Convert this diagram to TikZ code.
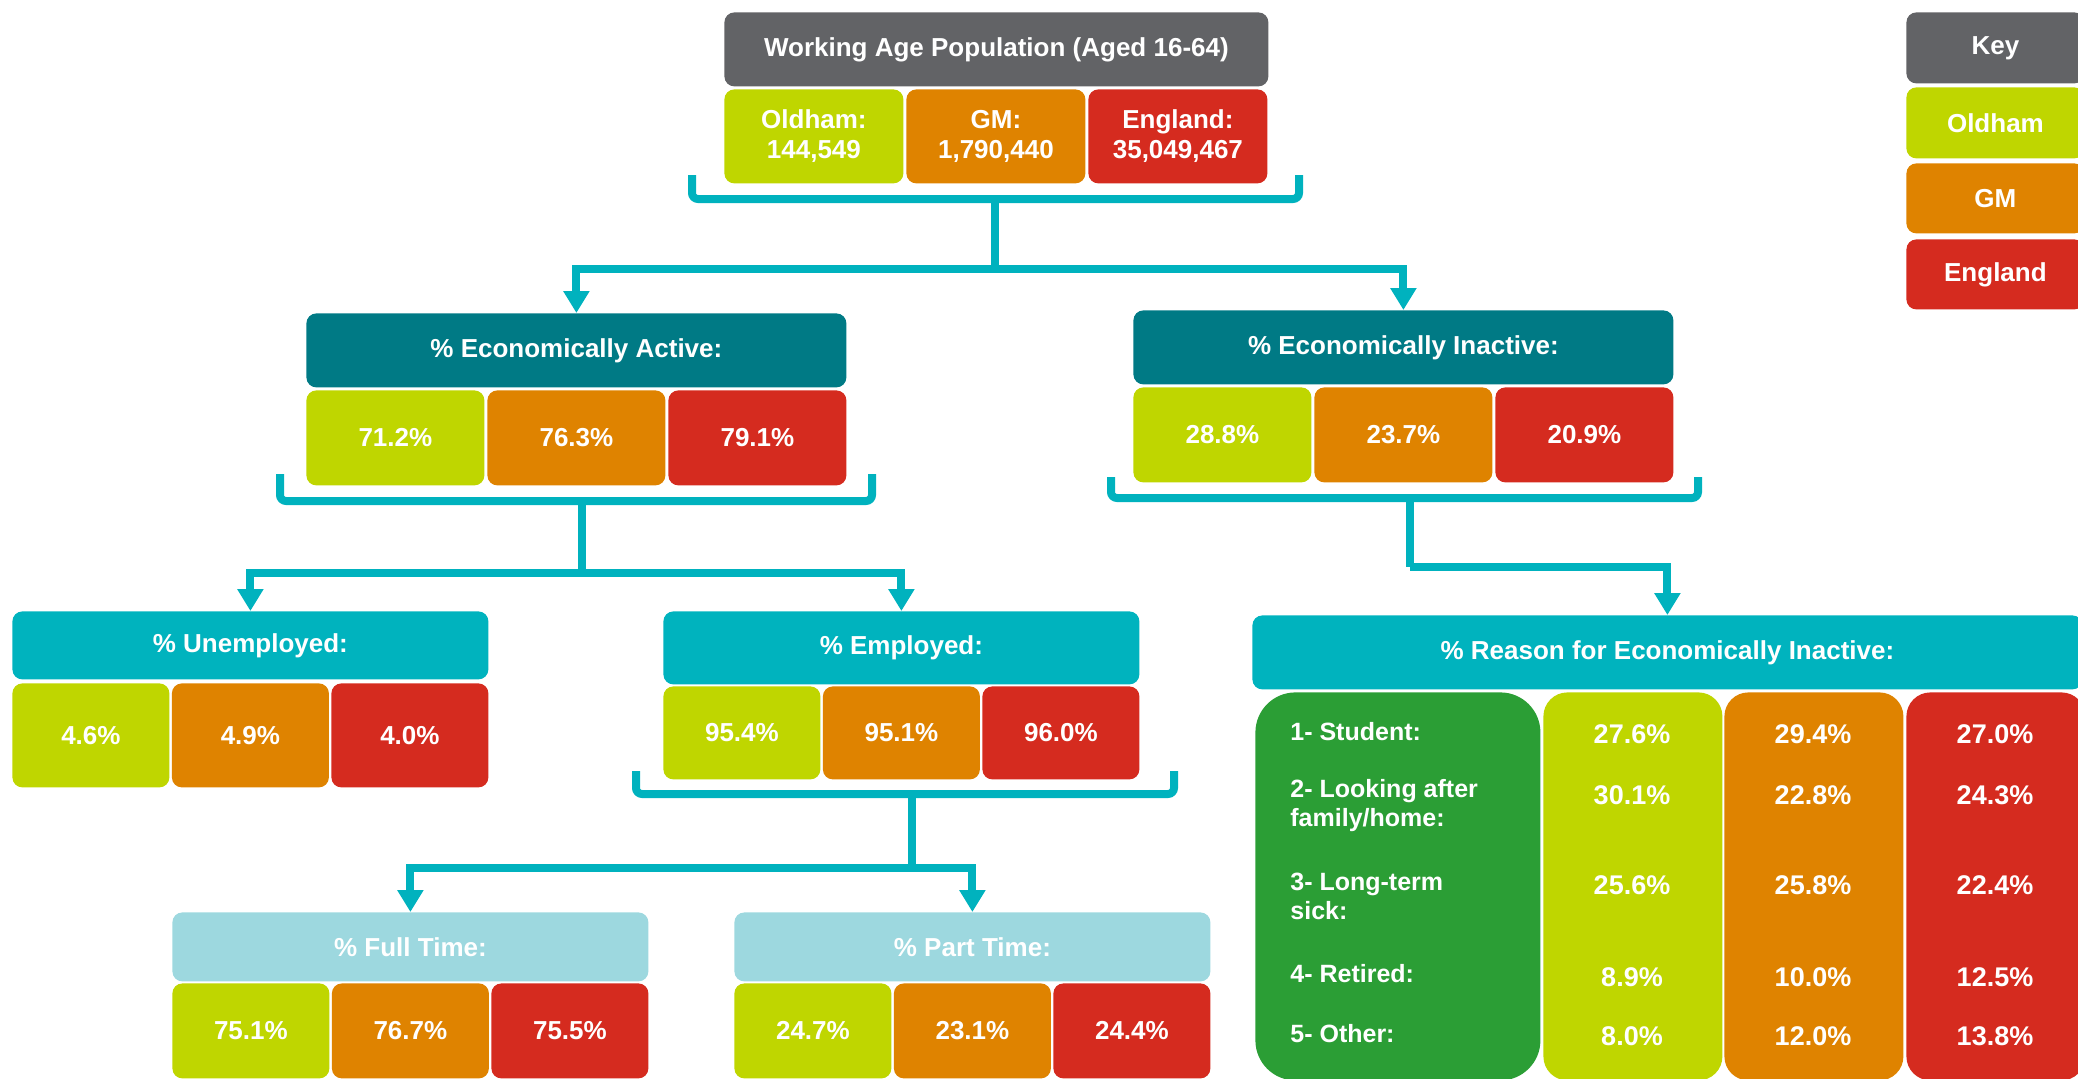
\documentclass[tikz,border=0pt]{standalone}
\usepackage{fontspec}
\setmainfont{Liberation Sans}
\usetikzlibrary{arrows.meta}
\definecolor{cgrey}{HTML}{626366}
\definecolor{colO}{HTML}{BFD600}
\definecolor{colG}{HTML}{DF8300}
\definecolor{colE}{HTML}{D52B1F}
\definecolor{dteal}{HTML}{007A85}
\definecolor{mteal}{HTML}{00B3BE}
\definecolor{lblue}{HTML}{9DD8DF}
\definecolor{cgreen}{HTML}{2B9E35}
\definecolor{lineteal}{HTML}{00B2BE}
\begin{document}
\begin{tikzpicture}[x=0.5pt,y=-0.5pt,
  cell/.style={rounded corners=5pt, text=white, font=\bfseries\fontsize{13}{15}\selectfont, inner sep=0pt, anchor=north west, align=center},
  hdr/.style={cell, minimum width=#1},
  oc/.style={cell, fill=colO},
  gc/.style={cell, fill=colG},
  ec/.style={cell, fill=colE},
  val/.style={text=white, font=\bfseries\fontsize{13.5}{15}\selectfont, inner sep=0pt},
  lab/.style={text=white, font=\bfseries\fontsize{12.5}{14.5}\selectfont, inner sep=0pt, anchor=west, align=left},
  conn/.style={draw=lineteal, line width=4pt, rounded corners=3pt},
  arr/.style={draw=lineteal, line width=4pt, -{Triangle[width=12.5pt,length=11pt]}}]
\useasboundingbox (0,0) rectangle (2078,1078);
\clip (0,0) rectangle (2078,1078);

% ---------- top ----------
\node[hdr=272pt, fill=cgrey, minimum height=37pt] (top) at (724,12) {Working Age Population (Aged 16-64)};
\node[oc, minimum width=89.5pt, minimum height=47pt] (topO) at (724,89) {Oldham:\\144,549};
\node[gc, minimum width=89.5pt, minimum height=47pt] (topG) at (906,89) {GM:\\1,790,440};
\node[ec, minimum width=89.5pt, minimum height=47pt] (topE) at (1088,89) {England:\\35,049,467};

% ---------- key ----------
\node[hdr=89pt, fill=cgrey, minimum height=35.5pt] (key) at (1906,12) {Key};
\node[oc, minimum width=89pt, minimum height=35.5pt] (keyO) at (1906,87) {Oldham};
\node[gc, minimum width=89pt, minimum height=35pt] (keyG) at (1906,163) {GM};
\node[ec, minimum width=89pt, minimum height=35pt] (keyE) at (1906,239) {England};

% ---------- economically active ----------
\node[hdr=270pt, fill=dteal, minimum height=37pt] (act) at (306,313) {\% Economically Active:};
\node[oc, minimum width=89pt, minimum height=47.5pt] (actO) at (306,390) {71.2\%};
\node[gc, minimum width=89pt, minimum height=47.5pt] (actG) at (487,390) {76.3\%};
\node[ec, minimum width=89pt, minimum height=47.5pt] (actE) at (668,390) {79.1\%};

% ---------- economically inactive ----------
\node[hdr=270pt, fill=dteal, minimum height=37pt] (inact) at (1133,310) {\% Economically Inactive:};
\node[oc, minimum width=89pt, minimum height=47.5pt] (inO) at (1133,387) {28.8\%};
\node[gc, minimum width=89pt, minimum height=47.5pt] (inG) at (1314,387) {23.7\%};
\node[ec, minimum width=89pt, minimum height=47.5pt] (inE) at (1495,387) {20.9\%};

% ---------- unemployed ----------
\node[hdr=238pt, fill=mteal, minimum height=34pt] (unemp) at (12,611) {\% Unemployed:};
\node[oc, minimum width=78.5pt, minimum height=52pt] (unO) at (12,683) {4.6\%};
\node[gc, minimum width=78.5pt, minimum height=52pt] (unG) at (171.5,683) {4.9\%};
\node[ec, minimum width=78.5pt, minimum height=52pt] (unE) at (331,683) {4.0\%};

% ---------- employed ----------
\node[hdr=238pt, fill=mteal, minimum height=36.5pt] (emp) at (663,611) {\% Employed:};
\node[oc, minimum width=78.5pt, minimum height=46.5pt] (emO) at (663,686) {95.4\%};
\node[gc, minimum width=78.5pt, minimum height=46.5pt] (emG) at (822.5,686) {95.1\%};
\node[ec, minimum width=78.5pt, minimum height=46.5pt] (emE) at (982,686) {96.0\%};

% ---------- full time ----------
\node[hdr=238pt, fill=lblue, minimum height=34.5pt] (ft) at (172,912) {\% Full Time:};
\node[oc, minimum width=78.5pt, minimum height=47.5pt] (ftO) at (172,983) {75.1\%};
\node[gc, minimum width=78.5pt, minimum height=47.5pt] (ftG) at (331.5,983) {76.7\%};
\node[ec, minimum width=78.5pt, minimum height=47.5pt] (ftE) at (491,983) {75.5\%};

% ---------- part time ----------
\node[hdr=238pt, fill=lblue, minimum height=34.5pt] (pt) at (734,912) {\% Part Time:};
\node[oc, minimum width=78.5pt, minimum height=47.5pt] (ptO) at (734,983) {24.7\%};
\node[gc, minimum width=78.5pt, minimum height=47.5pt] (ptG) at (893.5,983) {23.1\%};
\node[ec, minimum width=78.5pt, minimum height=47.5pt] (ptE) at (1053,983) {24.4\%};

% ---------- reasons ----------
\node[hdr=415pt, fill=mteal, minimum height=37pt] (reason) at (1252,615) {\% Reason for Economically Inactive:};
\node[cell, fill=cgreen, rounded corners=20pt, minimum width=142.5pt, minimum height=194pt] (green) at (1255,692) {};
\node[cell, fill=colO, rounded corners=12pt, minimum width=89.5pt, minimum height=194pt] (rO) at (1543,692) {};
\node[cell, fill=colG, rounded corners=12pt, minimum width=89.5pt, minimum height=194pt] (rG) at (1724,692) {};
\node[cell, fill=colE, rounded corners=12pt, minimum width=89.5pt, minimum height=194pt] (rE) at (1906,692) {};

\node[lab] (l1) at (1290,732) {1- Student:};
\node[lab] (l2) at (1290,806) {2- Looking after\\family/home:};
\node[lab] (l3) at (1290,896) {3- Long-term\\sick:};
\node[lab] (l4) at (1290,974) {4- Retired:};
\node[lab] (l5) at (1290,1034) {5- Other:};

\node[val] (v1O) at (1632,734) {27.6\%};
\node[val] (v1G) at (1813,734) {29.4\%};
\node[val] (v1E) at (1995,734) {27.0\%};
\node[val] (v2O) at (1632,795) {30.1\%};
\node[val] (v2G) at (1813,795) {22.8\%};
\node[val] (v2E) at (1995,795) {24.3\%};
\node[val] (v3O) at (1632,885) {25.6\%};
\node[val] (v3G) at (1813,885) {25.8\%};
\node[val] (v3E) at (1995,885) {22.4\%};
\node[val] (v4O) at (1632,977) {8.9\%};
\node[val] (v4G) at (1813,977) {10.0\%};
\node[val] (v4E) at (1995,977) {12.5\%};
\node[val] (v5O) at (1632,1036) {8.0\%};
\node[val] (v5G) at (1813,1036) {12.0\%};
\node[val] (v5E) at (1995,1036) {13.8\%};

% ---------- connectors ----------
% top bracket
\coordinate (b1L) at (692,175);
\coordinate (b1R) at (1299,175);
\coordinate (s1) at (995,199);
\coordinate (j1) at (995,269);
\draw[conn] (b1L) -- ++(0,24) -| (b1R);
\draw[conn] (s1) -- (j1);
\draw[arr] (j1) -| (act.north);
\draw[arr] (j1) -| (inact.north);

% active bracket
\coordinate (b2L) at (280,474);
\coordinate (b2R) at (872,474);
\coordinate (s2) at (582,501);
\coordinate (j2) at (582,573);
\draw[conn] (b2L) -- ++(0,27) -| (b2R);
\draw[conn] (s2) -- (j2);
\draw[arr] (j2) -| (unemp.north);
\draw[arr] (j2) -| (emp.north);

% inactive bracket
\coordinate (b3L) at (1111,477);
\coordinate (b3R) at (1698,477);
\coordinate (s3) at (1410,498);
\coordinate (j3) at (1410,567);
\draw[conn] (b3L) -- ++(0,21) -| (b3R);
\draw[conn] (s3) -- (j3);
\draw[arr] (j3) -| (reason.north);

% employed bracket
\coordinate (b4L) at (636,771);
\coordinate (b4R) at (1174,771);
\coordinate (s4) at (912,794);
\coordinate (j4) at (912,868);
\draw[conn] (b4L) -- ++(0,23) -| (b4R);
\draw[conn] (s4) -- (j4);
\draw[arr] (j4) -| (ft.north);
\draw[arr] (j4) -| (pt.north);
\end{tikzpicture}
\end{document}
